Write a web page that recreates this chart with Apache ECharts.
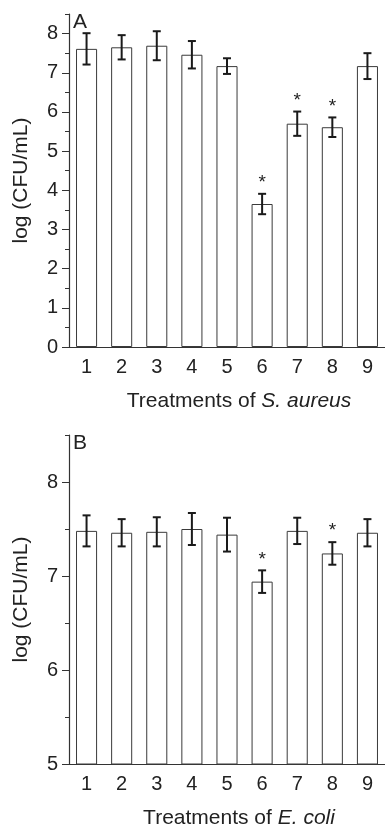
<!DOCTYPE html>
<html>
<head>
<meta charset="utf-8">
<script src="https://cdn.jsdelivr.net/npm/echarts@6/dist/echarts.min.js"></script>
<style>
  html, body { margin: 0; padding: 0; background: #fff; }
  #chart { width: 385px; height: 830px; }
</style>
</head>
<body>
<div id="chart"></div>
<script>
// treatments 1..9
const categories = ["1", "2", "3", "4", "5", "6", "7", "8", "9"];

// panel A: S. aureus, log(CFU/mL)
const aureusMean = [7.61, 7.65, 7.69, 7.46, 7.17, 3.65, 5.70, 5.61, 7.17];
const aureusErr = [0.40, 0.31, 0.37, 0.35, 0.20, 0.26, 0.31, 0.25, 0.33];
const aureusSig = [0, 0, 0, 0, 0, 1, 1, 1, 0];
const aureusTicks = [0, 1, 2, 3, 4, 5, 6, 7, 8];

// panel B: E. coli, log(CFU/mL)
const coliMean = [7.48, 7.46, 7.47, 7.50, 7.44, 6.94, 7.48, 7.24, 7.46];
const coliErr = [0.165, 0.145, 0.155, 0.17, 0.18, 0.12, 0.14, 0.12, 0.145];
const coliSig = [0, 0, 0, 0, 0, 1, 0, 1, 0];
const coliTicks = [5, 6, 7, 8];

const FONT = "Liberation Sans";
const ink = "#222";
const axisColor = "#333";

function errRender(params, api) {
  const x = api.value(0);
  const lo = api.coord([x, api.value(1)]);
  const hi = api.coord([x, api.value(2)]);
  const w = 4;
  const st = { stroke: "#1a1a1a", lineWidth: 2 };
  return {
    type: "group",
    children: [
      { type: "line", shape: { x1: lo[0], y1: lo[1], x2: hi[0], y2: hi[1] }, style: st },
      { type: "line", shape: { x1: lo[0] - w, y1: lo[1], x2: lo[0] + w, y2: lo[1] }, style: st },
      { type: "line", shape: { x1: hi[0] - w, y1: hi[1], x2: hi[0] + w, y2: hi[1] }, style: st }
    ]
  };
}

function starRender(params, api) {
  const p = api.coord([api.value(0), api.value(1)]);
  return {
    type: "text",
    x: p[0],
    y: p[1] - 11,
    style: { text: "*", fill: ink, font: "19px " + FONT, align: "center", verticalAlign: "middle" }
  };
}

function errData(mean, err) {
  return mean.map((m, i) => [i, m - err[i], m + err[i]]);
}
function starData(mean, err, sig) {
  const out = [];
  sig.forEach((s, i) => { if (s) out.push([i, mean[i] + err[i]]); });
  return out;
}

function xAxisFor(gridIndex, species) {
  return {
    type: "category",
    gridIndex,
    data: categories,
    axisLine: { lineStyle: { color: axisColor, width: 1.2 } },
    axisTick: { alignWithLabel: true, length: 7, lineStyle: { color: axisColor } },
    axisLabel: { color: ink, fontSize: 20, fontFamily: FONT, margin: 10 },
    name: "{n|Treatments of }{i|" + species + "}",
    nameLocation: "middle",
    nameGap: 44,
    nameTextStyle: {
      padding: [0, 0, 0, 24],
      rich: {
        n: { fontSize: 21, fontFamily: FONT, color: ink },
        i: { fontSize: 21, fontFamily: FONT, color: ink, fontStyle: "italic" }
      }
    }
  };
}

function yAxesFor(gridIndex, min, max, ticks) {
  return [
    {
      type: "value",
      gridIndex,
      position: "left",
      min, max, interval: 1,
      splitLine: { show: false },
      axisLine: { show: true, lineStyle: { color: axisColor, width: 1.2 } },
      axisTick: { show: true, length: 7, customValues: ticks, lineStyle: { color: axisColor } },
      axisLabel: { customValues: ticks, color: ink, fontSize: 20, fontFamily: FONT, margin: 11 },
      name: "log (CFU/mL)",
      nameLocation: "middle",
      nameGap: 37,
      nameTextStyle: { fontSize: 21, fontFamily: FONT, color: ink }
    },
    {
      // half-unit minor ticks
      type: "value",
      gridIndex,
      position: "left",
      min, max, interval: 0.5,
      splitLine: { show: false },
      axisLine: { show: false },
      axisTick: { show: true, length: 4, lineStyle: { color: axisColor } },
      axisLabel: { show: false }
    }
  ];
}

const chart = echarts.init(document.getElementById("chart"), null, { renderer: "canvas" });

chart.setOption({
  backgroundColor: "#fff",
  animation: false,
  grid: [
    { left: 69, top: 14, width: 317, height: 333 },
    { left: 69, top: 435, width: 317, height: 332 }
  ],
  xAxis: [xAxisFor(0, "S. aureus"), xAxisFor(1, "E. coli")],
  yAxis: yAxesFor(0, 0, 8.5, aureusTicks).concat(yAxesFor(1, 5, 8.5, coliTicks)),
  graphic: [
    { type: "text", left: 73, top: 12, style: { text: "A", font: "21px " + FONT, fill: ink } },
    { type: "text", left: 73, top: 433, style: { text: "B", font: "21px " + FONT, fill: ink } }
  ],
  series: [
    {
      type: "bar", xAxisIndex: 0, yAxisIndex: 0, data: aureusMean, barWidth: "60%",
      itemStyle: { color: "#fff", borderColor: "#3a3a3a", borderWidth: 1 }
    },
    { type: "custom", xAxisIndex: 0, yAxisIndex: 0, data: errData(aureusMean, aureusErr), renderItem: errRender, z: 3 },
    { type: "custom", xAxisIndex: 0, yAxisIndex: 0, data: starData(aureusMean, aureusErr, aureusSig), renderItem: starRender, z: 3 },
    {
      type: "bar", xAxisIndex: 1, yAxisIndex: 2, data: coliMean, barWidth: "60%",
      itemStyle: { color: "#fff", borderColor: "#3a3a3a", borderWidth: 1 }
    },
    { type: "custom", xAxisIndex: 1, yAxisIndex: 2, data: errData(coliMean, coliErr), renderItem: errRender, z: 3 },
    { type: "custom", xAxisIndex: 1, yAxisIndex: 2, data: starData(coliMean, coliErr, coliSig), renderItem: starRender, z: 3 }
  ]
});
</script>
</body>
</html>
